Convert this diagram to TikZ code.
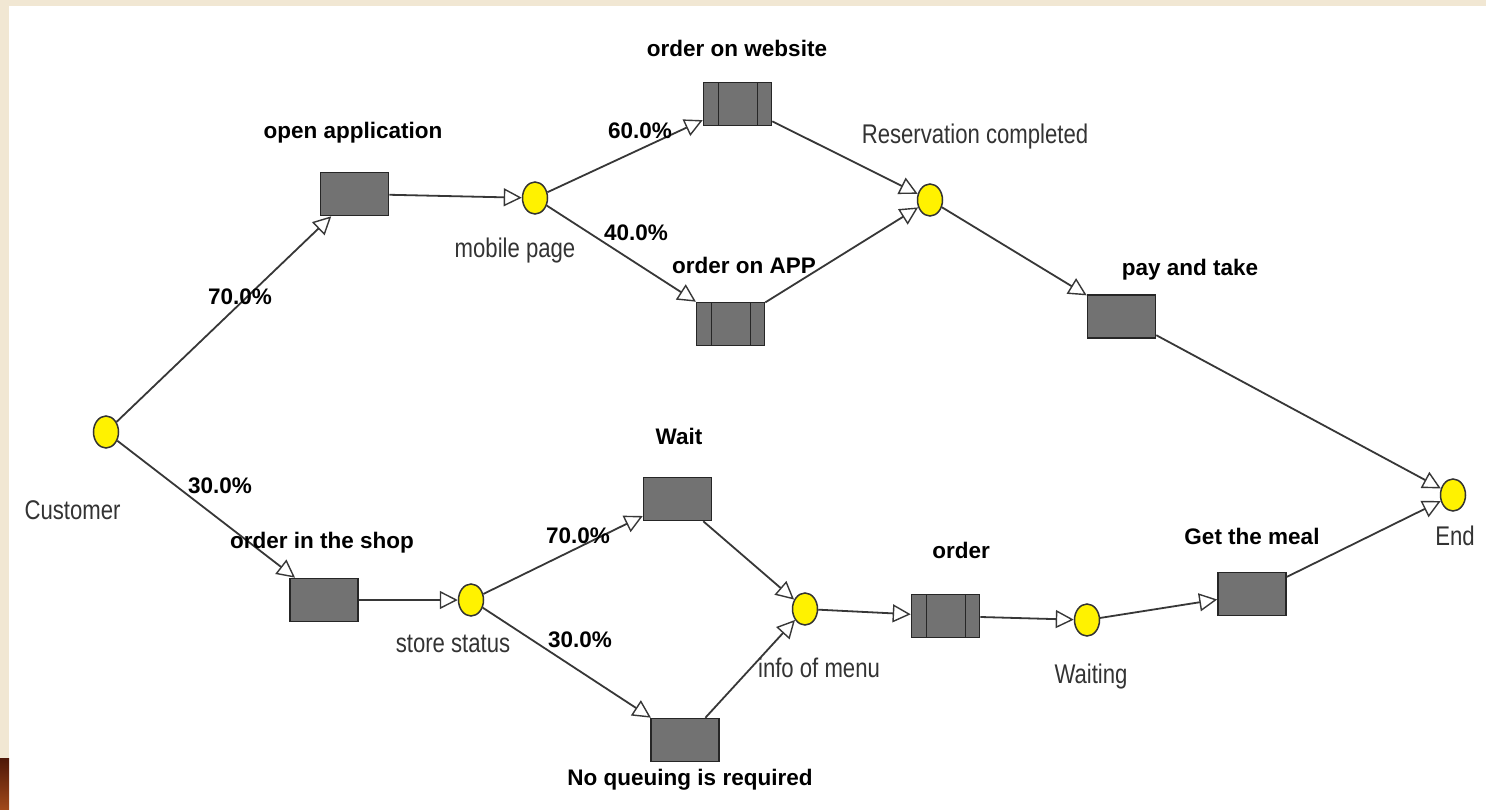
\documentclass[tikz,border=0pt]{standalone}
\usepackage{fontspec}
\setmainfont{Liberation Sans}
\newfontfamily\narrowfont{Liberation Sans}[FakeStretch=0.82]
\usetikzlibrary{arrows.meta,shapes.geometric}
\definecolor{beige}{RGB}{241,231,211}
\definecolor{actgray}{RGB}{114,114,114}
\definecolor{linegray}{RGB}{55,55,55}
\definecolor{bordbrown}{RGB}{78,24,8}
\definecolor{bordorange}{RGB}{160,72,26}
\tikzset{
  place/.style={ellipse, draw=black!80, fill=yellow, line width=1.5pt,
    minimum width=25pt, minimum height=32pt, inner sep=0pt},
  act/.style={rectangle, draw=black!85, fill=actgray, line width=1.6pt,
    minimum width=68pt, minimum height=43pt, inner sep=0pt},
  queue/.style={act, path picture={
    \draw[line width=1.6pt, black!85]
      ([xshift=15pt]path picture bounding box.north west) -- ([xshift=15pt]path picture bounding box.south west)
      ([xshift=-14pt]path picture bounding box.north east) -- ([xshift=-14pt]path picture bounding box.south east);}},
  flow/.style={draw=linegray, line width=1.8pt,
    -{Triangle[fill=white, length=18pt, width=18pt, line width=1.4pt]}},
  actlabel/.style={anchor=base, inner sep=0pt, font=\bfseries\fontsize{22.5}{26}\selectfont},
  placelabel/.style={anchor=base, inner sep=0pt, text=black!80, font=\narrowfont\fontsize{27}{30}\selectfont}
}
\begin{document}
\begin{tikzpicture}[x=1pt, y=-1pt]
    \useasboundingbox (0,0) rectangle (1486,809);
    % frame of the slide
    \fill[white] (0,0) rectangle (1486,809);
    \fill[beige] (0,0) rectangle (1486,6);
    \fill[beige] (0,0) rectangle (9,758);
    \shade[top color=bordbrown, bottom color=bordorange] (0,758) rectangle (9,809);
    % places
    \node[place] (cust) at (106,432) {};
    \node[place] (mob) at (535,198) {};
    \node[place] (resv) at (930,200) {};
    \node[place] (end) at (1453,495) {};
    \node[place] (store) at (471,600) {};
    \node[place] (menu) at (805,609) {};
    \node[place] (waiting) at (1087,620) {};
    % activities
    \node[act] (openapp) at (354.5,194) {};
    \node[queue] (web) at (737.5,104) {};
    \node[queue] (app) at (730.5,324) {};
    \node[act] (pay) at (1121.5,316.5) {};
    \node[act] (shop) at (324,600) {};
    \node[act] (wait) at (677.5,499) {};
    \node[act] (noq) at (685,740) {};
    \node[queue] (order) at (945.5,616) {};
    \node[act] (meal) at (1252,594) {};
    % flows
    \foreach \a/\b in {cust/openapp, openapp/mob, mob/web, mob/app, web/resv, app/resv,
        resv/pay, pay/end, cust/shop, shop/store, store/wait, store/noq, wait/menu,
        noq/menu, menu/order, order/waiting, waiting/meal, meal/end}
      \draw[flow] (\a) -- (\b);
    % labels
    \node[actlabel] (openapp-l) at (353,138) {open application};
    \node[actlabel] (web-l) at (737,56) {order on website};
    \node[actlabel] (app-l) at (744,273) {order on APP};
    \node[actlabel] (pay-l) at (1190,275) {pay and take};
    \node[actlabel] (shop-l) at (322,548) {order in the shop};
    \node[actlabel] (wait-l) at (679,444) {Wait};
    \node[actlabel] (noq-l) at (690,785) {No queuing is required};
    \node[actlabel] (order-l) at (961,558) {order};
    \node[actlabel] (meal-l) at (1252,544) {Get the meal};
    \node[actlabel] (p-app) at (240,304) {70.0\%};
    \node[actlabel] (p-shop) at (220,493) {30.0\%};
    \node[actlabel] (p-web) at (640,138) {60.0\%};
    \node[actlabel] (p-mob) at (636,240) {40.0\%};
    \node[actlabel] (p-wait) at (578,543) {70.0\%};
    \node[actlabel] (p-noq) at (580,647) {30.0\%};
    \node[placelabel] (cust-l) at (72.5,519) {Customer};
    \node[placelabel] (mob-l) at (515,257) {mobile page};
    \node[placelabel] (resv-l) at (975,143) {Reservation completed};
    \node[placelabel] (store-l) at (453,652) {store status};
    \node[placelabel] (menu-l) at (819,677) {info of menu};
    \node[placelabel] (waiting-l) at (1091,683) {Waiting};
    \node[placelabel] (end-l) at (1455,545) {End};
\end{tikzpicture}
\end{document}
